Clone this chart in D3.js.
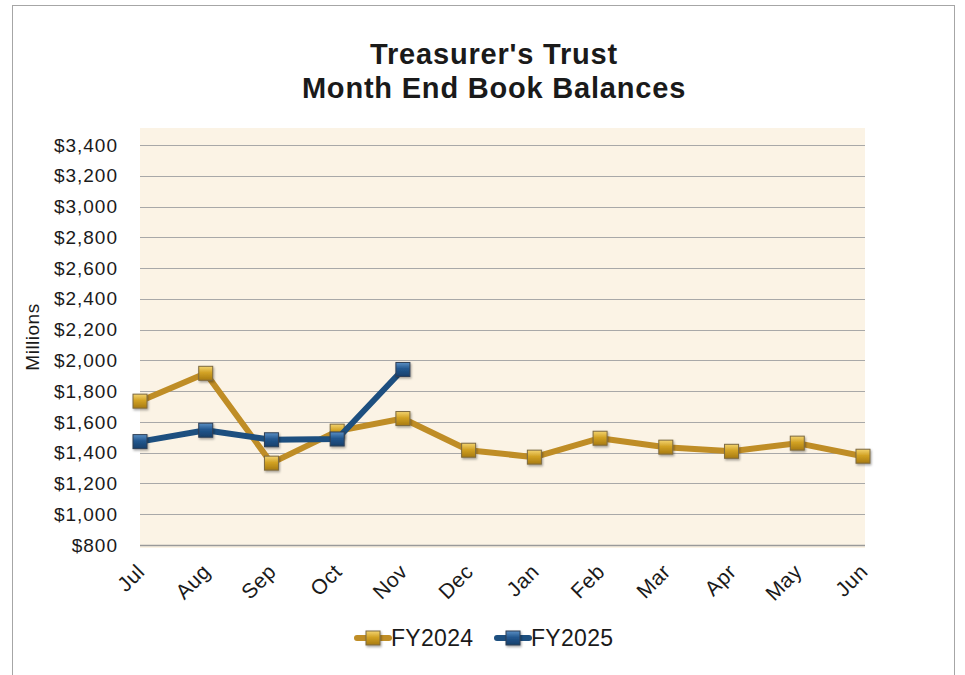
<!DOCTYPE html>
<html>
<head>
<meta charset="utf-8">
<script src="https://cdn.jsdelivr.net/npm/d3@7"></script>
<style>
  body { margin: 0; background: #fff; }
  svg { font-family: "Liberation Sans", Arial, sans-serif; }
</style>
</head>
<body>
<div id="chart"></div>
<script>
// Month end book balances, millions of dollars
const months = ['Jul', 'Aug', 'Sep', 'Oct', 'Nov', 'Dec', 'Jan', 'Feb', 'Mar', 'Apr', 'May', 'Jun'];
const fy2024 = [1735, 1916, 1332, 1540, 1622, 1416, 1371, 1494, 1436, 1409, 1462, 1377];
const fy2025 = [1472, 1546, 1484, 1489, 1941];
const yTicks = [800, 1000, 1200, 1400, 1600, 1800, 2000, 2200, 2400, 2600, 2800, 3000, 3200, 3400];

const width = 965;
const height = 675;
const plot = { left: 140, right: 865, top: 128, bottom: 548 };

const svg = d3.select('#chart')
  .append('svg')
  .attr('width', width)
  .attr('height', height);

const defs = svg.append('defs');

// marker gradients
function addGrad(id, light, mid, dark) {
  const g = defs.append('linearGradient')
    .attr('id', id)
    .attr('x1', 0).attr('y1', 0).attr('x2', 0).attr('y2', 1);
  g.append('stop').attr('offset', '0%').attr('stop-color', light);
  g.append('stop').attr('offset', '45%').attr('stop-color', mid);
  g.append('stop').attr('offset', '100%').attr('stop-color', dark);
}
addGrad('goldGrad', '#f3d470', '#d2a224', '#a77a12');
addGrad('blueGrad', '#5a8fc4', '#22578f', '#173f6a');

const shadow = defs.append('filter').attr('id', 'shadow')
  .attr('x', '-50%').attr('y', '-50%').attr('width', '200%').attr('height', '200%');
shadow.append('feDropShadow')
  .attr('dx', 1).attr('dy', 1.5).attr('stdDeviation', 1.2)
  .attr('flood-color', '#000').attr('flood-opacity', 0.35);

// outer border
svg.append('rect')
  .attr('x', 12.5).attr('y', 5.5)
  .attr('width', 942).attr('height', 680)
  .attr('fill', '#fff')
  .attr('stroke', '#a6a6a6');

// title
const title = svg.append('text')
  .attr('text-anchor', 'middle')
  .style('font-size', '29px')
  .style('font-weight', 'bold')
  .style('letter-spacing', '0.8px')
  .attr('fill', '#1a1a1a');
title.append('tspan').attr('x', 494).attr('y', 64).text("Treasurer's Trust");
title.append('tspan').attr('x', 494).attr('y', 98).text('Month End Book Balances');

// scales
const x = d3.scalePoint()
  .domain(months)
  .range([140, 863]);

const y = d3.scaleLinear()
  .domain([800, 3400])
  .range([545, 145]);

// plot background
svg.append('rect')
  .attr('x', plot.left)
  .attr('y', plot.top)
  .attr('width', plot.right - plot.left)
  .attr('height', plot.bottom - plot.top)
  .attr('fill', '#fbf3e5');

// gridlines
svg.append('g')
  .selectAll('line')
  .data(yTicks)
  .enter()
  .append('line')
  .attr('x1', plot.left)
  .attr('x2', plot.right)
  .attr('y1', d => Math.round(y(d)) + 0.5)
  .attr('y2', d => Math.round(y(d)) + 0.5)
  .attr('stroke', d => d === 800 ? '#9a9a9a' : '#a8a8a8')
  .attr('stroke-width', d => d === 800 ? 1.5 : 1);

// y axis labels
const fmt = d3.format('$,');
svg.append('g')
  .selectAll('text')
  .data(yTicks)
  .enter()
  .append('text')
  .attr('x', 118)
  .attr('y', d => y(d))
  .attr('dy', '0.35em')
  .attr('text-anchor', 'end')
  .style('font-size', '19px')
  .style('letter-spacing', '1px')
  .attr('fill', '#1a1a1a')
  .text(d => fmt(d));

svg.append('text')
  .attr('transform', 'translate(39, 337) rotate(-90)')
  .attr('text-anchor', 'middle')
  .style('font-size', '19px')
  .style('letter-spacing', '0.5px')
  .attr('fill', '#1a1a1a')
  .text('Millions');

// x axis labels
svg.append('g')
  .selectAll('text')
  .data(months)
  .enter()
  .append('text')
  .attr('transform', d => `translate(${x(d) + 6}, 573) rotate(-45)`)
  .attr('text-anchor', 'end')
  .style('font-size', '21px')
  .style('letter-spacing', '0.5px')
  .attr('fill', '#1a1a1a')
  .text(d => d);

// series
const series = [
  { name: 'FY2024', values: fy2024, color: '#bf8d26', grad: 'url(#goldGrad)', edge: '#7d6a40' },
  { name: 'FY2025', values: fy2025, color: '#1d4f7f', grad: 'url(#blueGrad)', edge: '#2f3f55' }
];

const line = d3.line()
  .x((d, i) => x(months[i]))
  .y(d => y(d));

const ms = 14;

series.forEach(s => {
  svg.append('path')
    .datum(s.values)
    .attr('d', line)
    .attr('fill', 'none')
    .attr('stroke', s.color)
    .attr('stroke-width', 6)
    .attr('stroke-linejoin', 'round');

  svg.append('g')
    .selectAll('rect')
    .data(s.values)
    .enter()
    .append('rect')
    .attr('x', (d, i) => x(months[i]) - ms / 2)
    .attr('y', d => y(d) - ms / 2)
    .attr('width', ms)
    .attr('height', ms)
    .attr('fill', s.grad)
    .attr('stroke', s.edge)
    .attr('stroke-width', 1)
    .attr('filter', 'url(#shadow)');
});

// legend
const legendX = [357, 497];
const legend = svg.append('g')
  .selectAll('g')
  .data(series)
  .enter()
  .append('g')
  .attr('transform', (d, i) => `translate(${legendX[i]}, 638)`);

legend.append('line')
  .attr('x1', 0).attr('x2', 32)
  .attr('stroke', d => d.color)
  .attr('stroke-width', 6)
  .attr('stroke-linecap', 'round');

legend.append('rect')
  .attr('x', 16 - ms / 2).attr('y', -ms / 2)
  .attr('width', ms).attr('height', ms)
  .attr('fill', d => d.grad)
  .attr('stroke', d => d.edge)
  .attr('filter', 'url(#shadow)');

legend.append('text')
  .attr('x', 34)
  .attr('dy', '0.35em')
  .style('font-size', '23px')
  .style('letter-spacing', '0.3px')
  .attr('fill', '#1a1a1a')
  .text(d => d.name);
</script>
</body>
</html>
